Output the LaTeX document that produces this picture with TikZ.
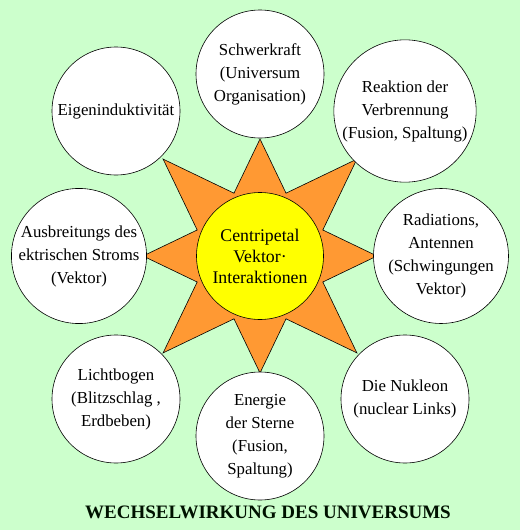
\documentclass[tikz,border=0pt]{standalone}
\usepackage{fontspec}
\setmainfont{Liberation Serif}
\usetikzlibrary{positioning}

\definecolor{bggreen}{RGB}{204,255,204}
\definecolor{rayorange}{RGB}{255,153,51}
\definecolor{sunyellow}{RGB}{255,255,0}
\definecolor{titlegreen}{RGB}{0,18,0}

\begin{document}
\begin{tikzpicture}[x=1pt,y=-1pt,
  bubble/.style={circle,draw=black,fill=white,line width=0.6pt,minimum size=128pt,inner sep=0pt,align=center,font=\fontsize{16.8}{23}\selectfont},
  sun/.style={circle,draw=black,fill=sunyellow,line width=0.6pt,minimum size=127pt,inner sep=0pt,align=center,font=\fontsize{17.8}{21}\selectfont},
  ray/.style={draw=black,fill=rayorange,line width=0.6pt,line join=miter}]
\fill[bggreen] (0,0) rectangle (520,530);
\useasboundingbox (0,0) rectangle (520,530);

% star behind the centre
\begin{scope}[shift={(260,256)}]
\draw[ray] (0:117) -- (22.5:68) -- (45:137) -- (67.5:68) -- (90:117) -- (112.5:68)
  -- (135:137) -- (157.5:68) -- (180:117) -- (202.5:68) -- (225:137) -- (247.5:68)
  -- (270:117) -- (292.5:68) -- (315:137) -- (337.5:68) -- cycle;
\end{scope}

\node[sun] (centre) at (260,256) {Centripetal\\Vektor·\\Interaktionen};

\node[bubble] (gravity) at (260,74) {Schwerkraft\\(Universum\\Organisation)};
\node[bubble] (induct) at (116,111) {Eigeninduktivität};
\node[bubble] (burn) at (405,111) {\raisebox{13pt}{\begin{tabular}{@{}c@{}}Reaktion der\\Verbrennung\\(Fusion, Spaltung)\end{tabular}}};
\node[bubble] (current) at (79,256) {Ausbreitungs des\\ektrischen Stroms\\(Vektor)};
\node[bubble] (radiation) at (441,256) {Radiations,\\Antennen\\(Schwingungen\\Vektor)};
\node[bubble] (arc) at (116,399) {Lichtbogen\\(Blitzschlag ,\\Erdbeben)};
\node[bubble] (stars) at (260,436) {Energie\\der Sterne\\(Fusion,\\Spaltung)};
\node[bubble] (nucleon) at (405,399) {Die Nukleon\\(nuclear Links)};

\node[font=\fontsize{19}{22}\selectfont\bfseries,text=titlegreen] (title) at (268,512) {WECHSELWIRKUNG DES UNIVERSUMS};
\end{tikzpicture}
\end{document}
